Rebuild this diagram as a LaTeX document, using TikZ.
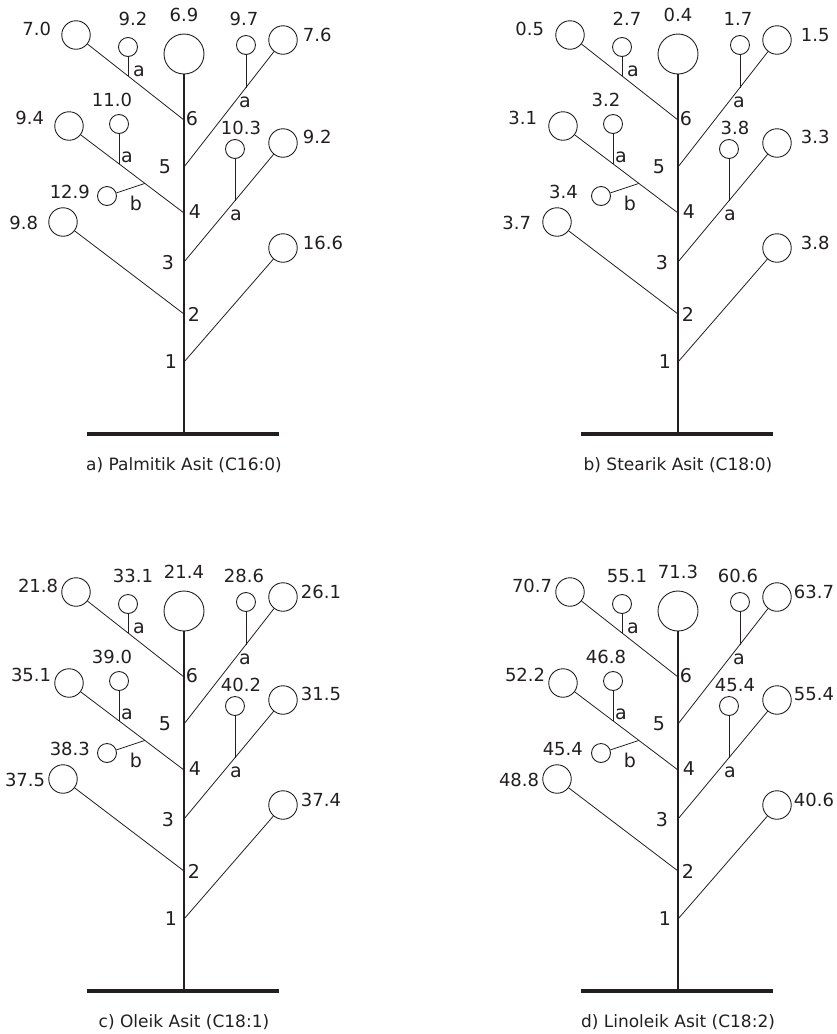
\documentclass[tikz,border=0pt]{standalone}
\usepackage{fontspec}
\setmainfont{DejaVu Sans}
\usetikzlibrary{calc}
\definecolor{ink}{HTML}{231F20}
\tikzset{
  lbl/.style={inner sep=0pt, font=\fontsize{18}{21}\selectfont, text=ink},
  caplbl/.style={inner sep=0pt, font=\fontsize{17}{20}\selectfont, text=ink},
  numlbl/.style={inner sep=0pt, font=\fontsize{19}{22}\selectfont, text=ink},
  bigc/.style={circle, draw=ink, line width=0.9pt, minimum size=40pt, inner sep=0pt},
  midc/.style={circle, draw=ink, line width=0.9pt, minimum size=28.5pt, inner sep=0pt},
  smc/.style={circle, draw=ink, line width=0.9pt, minimum size=19pt, inner sep=0pt},
  br/.style={draw=ink, line width=0.8pt},
  trunkline/.style={draw=ink, line width=1.6pt},
  groundline/.style={draw=ink, line width=3.6pt},
}
% #1 prefix, #2 dx, #3 dy, #4 caption, #5 left gap, #6 right gap, #7 gap of b label
\newcommand\drawtree[7]{%
\begin{scope}[shift={(#2,#3)}]
  \node[bigc] (#1T) at (0,54) {};
  \coordinate (#1g) at (0,434);
  \coordinate (#1gl) at (-97,434);
  \coordinate (#1gr) at (95,434);
  \coordinate (#1n1) at (0,362);
  \coordinate (#1n2) at (0,314);
  \coordinate (#1n3) at (0,262);
  \coordinate (#1n4) at (0,213);
  \coordinate (#1n5) at (0,167);
  \coordinate (#1n6) at (0,120);
  \node[midc] (#1C1) at (99,248) {};
  \node[midc] (#1C2) at (-121,222) {};
  \node[midc] (#1C3) at (99,143) {};
  \node[midc] (#1C4) at (-115,126) {};
  \node[midc] (#1C5) at (99,40) {};
  \node[midc] (#1C6) at (-108,35) {};
  \draw[trunkline] (#1T.south) -- (#1g);
  \draw[groundline] (#1gl) -- (#1gr);
  \draw[br] (#1n1) -- (#1C1);
  \draw[br] (#1n2) -- (#1C2);
  \draw[br] (#1n3) -- (#1C3);
  \draw[br] (#1n4) -- (#1C4);
  \draw[br] (#1n5) -- (#1C5);
  \draw[br] (#1n6) -- (#1C6);
  % side branches
  \coordinate (#1p6) at ($(#1n6)!0.5185!(#1C6)$);
  \coordinate (#1p5) at ($(#1n5)!0.626!(#1C5)$);
  \coordinate (#1p4) at ($(#1n4)!0.565!(#1C4)$);
  \coordinate (#1pb) at ($(#1n4)!0.34!(#1C4)$);
  \coordinate (#1p3) at ($(#1n3)!0.515!(#1C3)$);
  \node[smc] (#1S6) at (#1p6 |- 0,47) {};
  \node[smc] (#1S5) at (#1p5 |- 0,45) {};
  \node[smc] (#1S4) at (#1p4 |- 0,124) {};
  \node[smc] (#1S3) at (#1p3 |- 0,149) {};
  \node[smc] (#1Sb) at (-77,196) {};
  \draw[br] (#1S6) -- (#1p6);
  \draw[br] (#1S5) -- (#1p5);
  \draw[br] (#1S4) -- (#1p4);
  \draw[br] (#1S3) -- (#1p3);
  \draw[br] (#1Sb) -- (#1pb);
  % a / b labels
  \node[numlbl] (#1la6) at (-45,71) {a};
  \node[numlbl] (#1la5) at (61,102) {a};
  \node[numlbl] (#1la4) at (-57,157) {a};
  \node[numlbl] (#1lb4) at (-48,203) {b};
  \node[numlbl] (#1la3) at (52,215) {a};
  % position numbers
  \node[numlbl] (#1k6) at (8,119) {6};
  \node[numlbl] (#1k5) at (-19,167) {5};
  \node[numlbl] (#1k4) at (11,212) {4};
  \node[numlbl] (#1k3) at (-16,263) {3};
  \node[numlbl] (#1k2) at (10,314) {2};
  \node[numlbl] (#1k1) at (-13,362) {1};
  % values
  \node[lbl, anchor=east] (#1vC6) at ($(#1C6.west)+(-#5,-6)$) {\tvCsix};
  \node[lbl, anchor=east] (#1vC4) at ($(#1C4.west)+(-#5,-8)$) {\tvCfour};
  \node[lbl, anchor=east] (#1vC2) at ($(#1C2.west)+(-#5,1)$) {\tvCtwo};
  \node[lbl, anchor=east] (#1vSb) at ($(#1Sb.west)+(-#7,-4)$) {\tvSb};
  \node[lbl, anchor=west] (#1vC5) at ($(#1C5.east)+(#6,-5)$) {\tvCfive};
  \node[lbl, anchor=west] (#1vC3) at ($(#1C3.east)+(#6,-6)$) {\tvCthree};
  \node[lbl, anchor=west] (#1vC1) at ($(#1C1.east)+(#6,-5)$) {\tvCone};
  \node[lbl] (#1vS6) at (-51,19) {\tvSsix};
  \node[lbl] (#1vT) at (0,15) {\tvT};
  \node[lbl] (#1vS5) at (60,19) {\tvSfive};
  \node[lbl] (#1vS4) at (-72,100) {\tvSfour};
  \node[lbl] (#1vS3) at (57,128) {\tvSthree};
  \node[caplbl] (#1cap) at (0,465) {#4};
\end{scope}}
\begin{document}
\begin{tikzpicture}[x=1pt,y=-1pt]
\useasboundingbox (0,0) rectangle (837,1034);
% a
\def\tvCsix{7.0}\def\tvSsix{9.2}\def\tvT{6.9}\def\tvSfive{9.7}\def\tvCfive{7.6}
\def\tvCfour{9.4}\def\tvSfour{11.0}\def\tvSthree{10.3}\def\tvCthree{9.2}
\def\tvSb{12.9}\def\tvCtwo{9.8}\def\tvCone{16.6}
\drawtree{a}{184}{0}{a) Palmitik Asit (C16:0)}{10}{5}{7}
% b
\def\tvCsix{0.5}\def\tvSsix{2.7}\def\tvT{0.4}\def\tvSfive{1.7}\def\tvCfive{1.5}
\def\tvCfour{3.1}\def\tvSfour{3.2}\def\tvSthree{3.8}\def\tvCthree{3.3}
\def\tvSb{3.4}\def\tvCtwo{3.7}\def\tvCone{3.8}
\drawtree{b}{678}{0}{b) Stearik Asit (C18:0)}{11}{9}{13}
% c
\def\tvCsix{21.8}\def\tvSsix{33.1}\def\tvT{21.4}\def\tvSfive{28.6}\def\tvCfive{26.1}
\def\tvCfour{35.1}\def\tvSfour{39.0}\def\tvSthree{40.2}\def\tvCthree{31.5}
\def\tvSb{38.3}\def\tvCtwo{37.5}\def\tvCone{37.4}
\drawtree{c}{184}{557}{c) Oleik Asit (C18:1)}{3}{3}{7}
% d
\def\tvCsix{70.7}\def\tvSsix{55.1}\def\tvT{71.3}\def\tvSfive{60.6}\def\tvCfive{63.7}
\def\tvCfour{52.2}\def\tvSfour{46.8}\def\tvSthree{45.4}\def\tvCthree{55.4}
\def\tvSb{45.4}\def\tvCtwo{48.8}\def\tvCone{40.6}
\drawtree{d}{678}{557}{d) Linoleik Asit (C18:2)}{3}{2}{8}
\end{tikzpicture}
\end{document}
